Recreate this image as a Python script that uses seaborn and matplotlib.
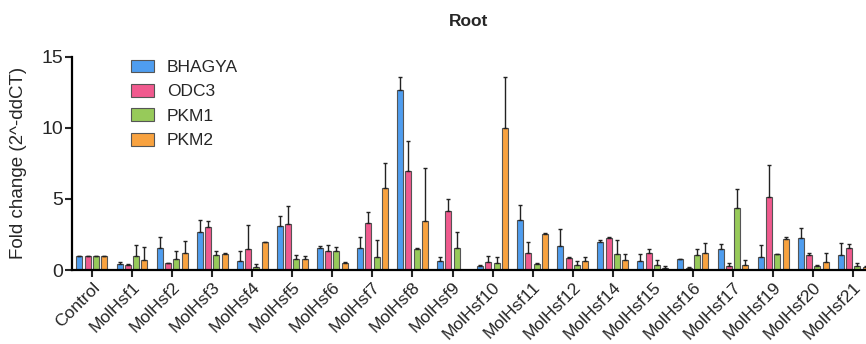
import matplotlib
matplotlib.use("Agg")
import matplotlib.pyplot as plt
import seaborn as sns
import pandas as pd
import numpy as np

# genes on the x axis
genes = ['Control', 'MolHsf1', 'MolHsf2', 'MolHsf3', 'MolHsf4', 'MolHsf5', 'MolHsf6',
         'MolHsf7', 'MolHsf8', 'MolHsf9', 'MolHsf10', 'MolHsf11', 'MolHsf12', 'MolHsf14',
         'MolHsf15', 'MolHsf16', 'MolHsf17', 'MolHsf19', 'MolHsf20', 'MolHsf21']
lines = ['BHAGYA', 'ODC3', 'PKM1', 'PKM2']

# mean fold change per line
bhagya = [1.0, 0.40, 1.53, 2.65, 0.63, 3.12, 1.53, 1.52, 12.65, 0.61, 0.31, 3.55, 1.67, 1.95, 0.61, 0.75, 1.50, 0.89, 2.28, 1.03]
odc3 = [1.0, 0.35, 0.52, 3.00, 1.46, 3.21, 1.31, 3.28, 7.00, 4.15, 0.56, 1.22, 0.85, 2.25, 1.17, 0.14, 0.26, 5.14, 1.03, 1.55]
pkm1 = [1.0, 1.00, 0.75, 1.08, 0.19, 0.77, 1.34, 0.89, 1.46, 1.55, 0.52, 0.42, 0.35, 1.10, 0.35, 1.03, 4.34, 1.10, 0.31, 0.28]
pkm2 = [1.0, 0.70, 1.17, 1.10, 1.95, 0.75, 0.47, 5.75, 3.45, 0.00, 9.98, 2.54, 0.61, 0.70, 0.16, 1.20, 0.33, 2.18, 0.54, 0.20]

# upper error (SD) per line
bhagya_err = [0.0, 0.14, 0.82, 0.87, 0.73, 0.71, 0.18, 0.83, 0.90, 0.28, 0.07, 1.03, 1.19, 0.19, 0.49, 0.02, 0.33, 0.85, 0.70, 0.89]
odc3_err = [0.0, 0.05, 0.0, 0.45, 1.71, 1.29, 0.47, 0.80, 2.06, 0.83, 0.45, 0.78, 0.09, 0.05, 0.33, 0.05, 0.21, 2.23, 0.14, 0.30]
pkm1_err = [0.0, 0.76, 0.61, 0.23, 0.23, 0.26, 0.26, 1.22, 0.07, 1.13, 0.42, 0.05, 0.26, 1.01, 0.35, 0.47, 1.36, 0.05, 0.04, 0.19]
pkm2_err = [0.0, 0.94, 0.87, 0.12, 0.05, 0.21, 0.12, 1.79, 3.71, 0.0, 3.57, 0.06, 0.31, 0.43, 0.10, 0.72, 0.37, 0.17, 0.63, 0.10]

colors = ['#4f9def', '#f05a8e', '#97ca5a', '#f8a23f']

rows = []
for ln, vals, errs in zip(lines, [bhagya, odc3, pkm1, pkm2],
                          [bhagya_err, odc3_err, pkm1_err, pkm2_err]):
    for g, v, e in zip(genes, vals, errs):
        rows.append({'Gene': g, 'Line': ln, 'Fold': v, 'Err': e})
df = pd.DataFrame(rows)

sns.set_theme(style="ticks")
plt.rcParams['font.family'] = ['Liberation Sans', 'DejaVu Sans']

fig = plt.figure(figsize=(8.66, 3.44), dpi=100)
ax = fig.add_axes([0.083, 0.215, 0.917, 0.62])

sns.barplot(data=df, x='Gene', y='Fold', hue='Line', palette=colors,
            saturation=1, width=0.83, gap=0.28, errorbar=None,
            edgecolor='#555555', linewidth=0.8, ax=ax)

# one-sided error bars on top of each bar
for container, ln in zip(ax.containers, lines):
    sub = df[df['Line'] == ln]
    xs = [p.get_x() + p.get_width() / 2 for p in container.patches]
    ys = sub['Fold'].values
    errs = sub['Err'].values
    ax.errorbar(xs, ys, yerr=[np.zeros_like(errs), errs], fmt='none',
                ecolor='#222222', elinewidth=1.0, capsize=1.5, capthick=1.0)

ax.set_xlim(-0.5, 19.32)
ax.set_ylim(0, 15)
ax.set_yticks([0, 5, 10, 15])
ax.tick_params(axis='y', labelsize=14, width=1.5, length=5, pad=1)
ax.tick_params(axis='x', labelsize=12.5, width=1.5, length=5, pad=2)
plt.setp(ax.get_xticklabels(), rotation=45, ha='right', rotation_mode='anchor')
for s in ['left', 'bottom']:
    ax.spines[s].set_linewidth(1.6)
    ax.spines[s].set_color('black')
sns.despine(ax=ax)

ax.set_xlabel('')
ax.set_ylabel('Fold change (2^-ddCT)', fontsize=13.5, labelpad=11)
ax.set_title('Root', fontsize=12.5, fontweight='bold', pad=22)

ax.legend(loc='upper left', bbox_to_anchor=(0.055, 1.06), frameon=False,
          fontsize=12.5, handlelength=1.3, handleheight=0.75, labelspacing=0.52,
          handletextpad=0.75)

fig.savefig('out.png', dpi=100)
